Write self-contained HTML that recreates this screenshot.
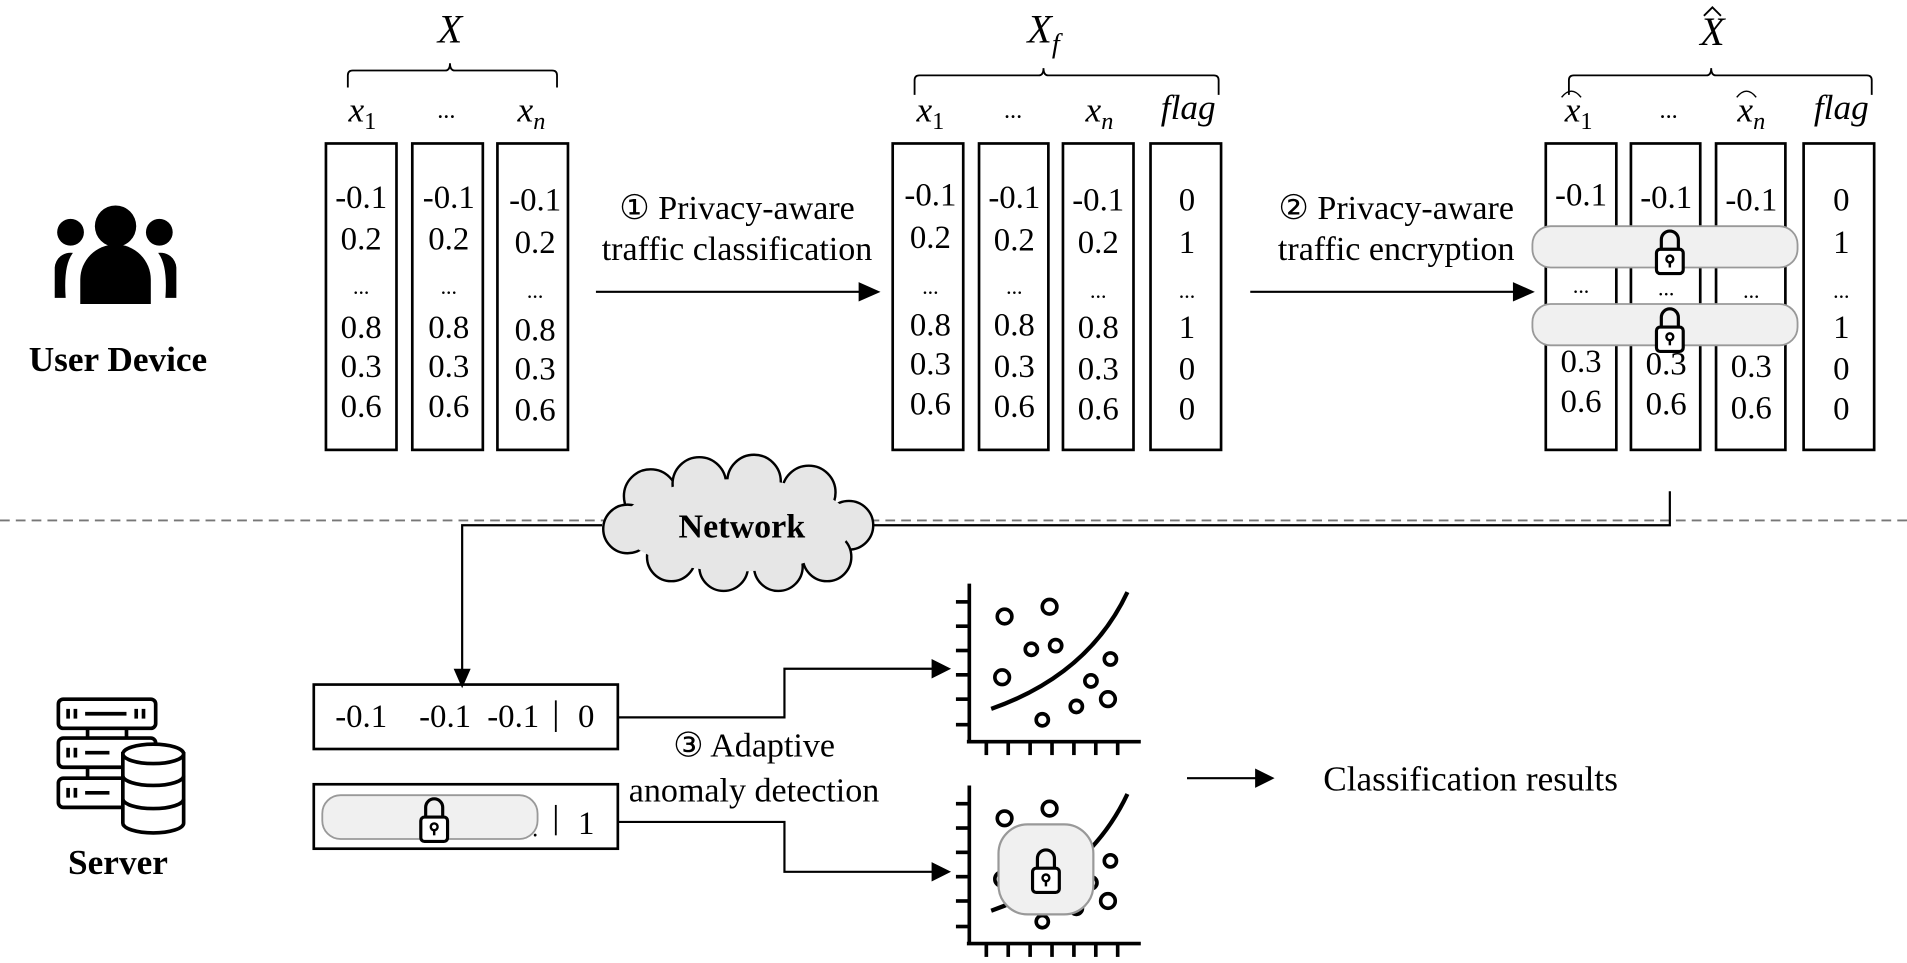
<!DOCTYPE html>
<html><head><meta charset="utf-8"><style>
html,body{margin:0;padding:0;background:#fff;}
svg{display:block;}
text{font-family:"Liberation Serif",serif;fill:#000;}
.v{font-size:27px;text-anchor:middle;}
.m{font-style:italic;font-size:29px;text-anchor:middle;}
.t{font-size:28px;text-anchor:middle;}
</style></head><body>
<svg width="1907" height="963" viewBox="0 0 1568 792" preserveAspectRatio="none" xmlns="http://www.w3.org/2000/svg">
<defs>
<g id="lock">
<path d="M-7,-2 V-10 A7,7 0 0 1 7,-10 V-2" fill="none" stroke="#000" stroke-width="2.6"/>
<rect x="-11" y="-2" width="22" height="20" rx="3" fill="#fff" stroke="#000" stroke-width="2.6"/>
<circle cx="0" cy="6" r="2.8" fill="none" stroke="#000" stroke-width="2"/>
<line x1="0" y1="8.5" x2="0" y2="13" stroke="#000" stroke-width="2"/>
</g>
<g id="plot">
<line x1="797" y1="480" x2="797" y2="610" stroke="#000" stroke-width="3"/>
<line x1="795" y1="610" x2="938" y2="610" stroke="#000" stroke-width="3"/>
<g stroke="#000" stroke-width="3">
<line x1="786" y1="495" x2="797" y2="495"/><line x1="786" y1="515" x2="797" y2="515"/><line x1="786" y1="535" x2="797" y2="535"/><line x1="786" y1="555" x2="797" y2="555"/><line x1="786" y1="575" x2="797" y2="575"/><line x1="786" y1="596" x2="797" y2="596"/>
<line x1="811" y1="610" x2="811" y2="621"/><line x1="829" y1="610" x2="829" y2="621"/><line x1="847" y1="610" x2="847" y2="621"/><line x1="865" y1="610" x2="865" y2="621"/><line x1="883" y1="610" x2="883" y2="621"/><line x1="901" y1="610" x2="901" y2="621"/><line x1="919" y1="610" x2="919" y2="621"/>
</g>
<g fill="none" stroke="#000" stroke-width="3">
<circle cx="826" cy="507" r="6"/><circle cx="863" cy="499" r="6"/><circle cx="848" cy="534" r="5"/><circle cx="868" cy="531" r="5"/><circle cx="824" cy="557" r="6"/><circle cx="913" cy="542" r="5"/><circle cx="897" cy="560" r="5"/><circle cx="885" cy="581" r="5"/><circle cx="911" cy="575" r="6"/><circle cx="857" cy="592" r="5"/>
<path d="M815,583 Q895,555 927,487" stroke-width="3.5"/>
</g>
</g>
</defs>

<!-- User icon -->
<g fill="#000">
<circle cx="95" cy="186" r="17"/>
<circle cx="58" cy="191" r="11"/>
<circle cx="131" cy="191" r="11"/>
<path d="M66,250 V230 A29,29 0 0 1 124,230 V250 Z"/>
<path d="M45,245 V220 A13,13 0 0 1 60,208 Q52,218 54,245 Z"/>
<path d="M145,245 V220 A13,13 0 0 0 130,208 Q138,218 136,245 Z"/>
</g>
<text x="97" y="305" style="font-size:29px;font-weight:bold;text-anchor:middle">User Device</text>

<!-- Group 1 -->
<text x="370" y="35" class="m" style="font-size:33px">X</text>
<path d="M286,72 V62 Q286,58 290,58 H366 Q370,58 370,52 Q370,58 374,58 H454 Q458,58 458,62 V72" fill="none" stroke="#000" stroke-width="1.5"/>
<text x="298" y="100" class="m">x<tspan font-size="20" dy="6" font-style="normal">1</tspan></text>
<text x="367" y="97" class="v" style="font-size:20px">...</text>
<text x="437" y="100" class="m">x<tspan font-size="20" dy="6">n</tspan></text>
<g fill="none" stroke="#000" stroke-width="2.2">
<rect x="268" y="118" width="58" height="252"/><rect x="339" y="118" width="58" height="252"/><rect x="409" y="118" width="58" height="252"/>
</g>
<text x="297" y="171" class="v">-0.1</text><text x="297" y="205" class="v">0.2</text><text x="297" y="242" class="v" style="font-size:18px">...</text><text x="297" y="278" class="v">0.8</text><text x="297" y="310" class="v">0.3</text><text x="297" y="343" class="v">0.6</text>
<text x="369" y="171" class="v">-0.1</text><text x="369" y="205" class="v">0.2</text><text x="369" y="242" class="v" style="font-size:18px">...</text><text x="369" y="278" class="v">0.8</text><text x="369" y="310" class="v">0.3</text><text x="369" y="343" class="v">0.6</text>
<text x="440" y="173" class="v">-0.1</text><text x="440" y="208" class="v">0.2</text><text x="440" y="245" class="v" style="font-size:18px">...</text><text x="440" y="280" class="v">0.8</text><text x="440" y="312" class="v">0.3</text><text x="440" y="346" class="v">0.6</text>

<!-- Arrow 1 -->
<text x="606" y="180" class="t">① Privacy-aware</text>
<text x="606" y="214" class="t">traffic classification</text>
<line x1="490" y1="240" x2="712" y2="240" stroke="#000" stroke-width="1.8"/>
<path d="M706,232 L724,240 L706,248 Z" fill="#000"/>

<!-- Group 2 -->
<text x="858" y="35" class="m" style="font-size:33px">X<tspan font-size="23" dy="8">f</tspan></text>
<path d="M752,78 V66 Q752,62 756,62 H854 Q858,62 858,56 Q858,62 862,62 H998 Q1002,62 1002,66 V78" fill="none" stroke="#000" stroke-width="1.5"/>
<text x="765" y="100" class="m">x<tspan font-size="20" dy="6" font-style="normal">1</tspan></text>
<text x="833" y="97" class="v" style="font-size:20px">...</text>
<text x="904" y="100" class="m">x<tspan font-size="20" dy="6">n</tspan></text>
<text x="977" y="98" class="m">flag</text>
<g fill="none" stroke="#000" stroke-width="2.2">
<rect x="734" y="118" width="58" height="252"/><rect x="805" y="118" width="57" height="252"/><rect x="874" y="118" width="58" height="252"/><rect x="946" y="118" width="58" height="252"/>
</g>
<text x="765" y="169" class="v">-0.1</text><text x="765" y="204" class="v">0.2</text><text x="765" y="242" class="v" style="font-size:18px">...</text><text x="765" y="276" class="v">0.8</text><text x="765" y="308" class="v">0.3</text><text x="765" y="341" class="v">0.6</text>
<text x="834" y="171" class="v">-0.1</text><text x="834" y="206" class="v">0.2</text><text x="834" y="242" class="v" style="font-size:18px">...</text><text x="834" y="276" class="v">0.8</text><text x="834" y="310" class="v">0.3</text><text x="834" y="343" class="v">0.6</text>
<text x="903" y="173" class="v">-0.1</text><text x="903" y="208" class="v">0.2</text><text x="903" y="245" class="v" style="font-size:18px">...</text><text x="903" y="278" class="v">0.8</text><text x="903" y="312" class="v">0.3</text><text x="903" y="345" class="v">0.6</text>
<text x="976" y="173" class="v">0</text><text x="976" y="208" class="v">1</text><text x="976" y="245" class="v" style="font-size:18px">...</text><text x="976" y="278" class="v">1</text><text x="976" y="312" class="v">0</text><text x="976" y="345" class="v">0</text>

<!-- Arrow 2 -->
<text x="1148" y="180" class="t">② Privacy-aware</text>
<text x="1148" y="214" class="t">traffic encryption</text>
<line x1="1028" y1="240" x2="1250" y2="240" stroke="#000" stroke-width="1.8"/>
<path d="M1244,232 L1262,240 L1244,248 Z" fill="#000"/>

<!-- Group 3 -->
<text x="1408" y="37" class="m" style="font-size:33px">X</text>
<path d="M1401,13 L1408,6 L1415,13" fill="none" stroke="#000" stroke-width="1.5"/>
<path d="M1290,78 V66 Q1290,62 1294,62 H1403 Q1407,62 1407,56 Q1407,62 1411,62 H1535 Q1539,62 1539,66 V78" fill="none" stroke="#000" stroke-width="1.5"/>
<text x="1298" y="100" class="m">x<tspan font-size="20" dy="6" font-style="normal">1</tspan></text>
<path d="M1284,80 Q1292,70 1300,80" fill="none" stroke="#000" stroke-width="1.2"/>
<text x="1372" y="97" class="v" style="font-size:20px">...</text>
<text x="1440" y="100" class="m">x<tspan font-size="20" dy="6">n</tspan></text>
<path d="M1428,80 Q1436,70 1444,80" fill="none" stroke="#000" stroke-width="1.2"/>
<text x="1514" y="98" class="m">flag</text>
<g fill="none" stroke="#000" stroke-width="2.2">
<rect x="1271" y="118" width="58" height="252"/><rect x="1341" y="118" width="57" height="252"/><rect x="1411" y="118" width="57" height="252"/><rect x="1483" y="118" width="58" height="252"/>
</g>
<text x="1300" y="169" class="v">-0.1</text><text x="1300" y="241" class="v" style="font-size:18px">...</text><text x="1300" y="306" class="v">0.3</text><text x="1300" y="339" class="v">0.6</text>
<text x="1370" y="171" class="v">-0.1</text><text x="1370" y="243" class="v" style="font-size:18px">...</text><text x="1370" y="308" class="v">0.3</text><text x="1370" y="341" class="v">0.6</text>
<text x="1440" y="173" class="v">-0.1</text><text x="1440" y="245" class="v" style="font-size:18px">...</text><text x="1440" y="310" class="v">0.3</text><text x="1440" y="344" class="v">0.6</text>
<text x="1514" y="173" class="v">0</text><text x="1514" y="208" class="v">1</text><text x="1514" y="245" class="v" style="font-size:18px">...</text><text x="1514" y="278" class="v">1</text><text x="1514" y="312" class="v">0</text><text x="1514" y="345" class="v">0</text>
<rect x="1260" y="186" width="218" height="34" rx="15" fill="#f0f0f0" stroke="#999" stroke-width="1.5"/>
<rect x="1260" y="250" width="218" height="34" rx="15" fill="#f0f0f0" stroke="#999" stroke-width="1.5"/>
<use href="#lock" x="1373" y="207"/>
<use href="#lock" x="1373" y="271"/>

<!-- Dashed separator -->
<line x1="0" y1="428" x2="1568" y2="428" stroke="#777" stroke-width="1.5" stroke-dasharray="8,5"/>

<polyline points="1373,404 1373,432 718,432" fill="none" stroke="#000" stroke-width="1.8"/>
<polyline points="495,432 380,432 380,558" fill="none" stroke="#000" stroke-width="1.8"/>
<path d="M373,550 L380,566 L387,550 Z" fill="#000"/>

<!-- Cloud -->
<g fill="#e6e6e6" stroke="#000" stroke-width="2">
<circle cx="535" cy="408" r="22"/><circle cx="575" cy="398" r="22"/><circle cx="620" cy="396" r="22"/><circle cx="665" cy="405" r="22"/>
<circle cx="698" cy="432" r="20"/><circle cx="680" cy="458" r="20"/><circle cx="640" cy="466" r="20"/><circle cx="595" cy="466" r="20"/><circle cx="552" cy="458" r="20"/><circle cx="516" cy="435" r="20"/>
</g>
<ellipse cx="606" cy="432" rx="95" ry="38" fill="#e6e6e6"/>
<text x="610" y="442" style="font-size:28px;font-weight:bold;text-anchor:middle">Network</text>

<!-- Server icon -->
<g fill="none" stroke="#000" stroke-width="3">
<rect x="48" y="575" width="80" height="24" rx="4"/>
<rect x="48" y="607" width="80" height="24" rx="4"/>
<rect x="48" y="640" width="80" height="24" rx="4"/>
<line x1="72" y1="599" x2="72" y2="607"/><line x1="104" y1="599" x2="104" y2="607"/>
<line x1="72" y1="631" x2="72" y2="640"/>
<line x1="56" y1="583" x2="56" y2="591"/><line x1="62" y1="583" x2="62" y2="591"/><line x1="70" y1="587" x2="104" y2="587"/><line x1="112" y1="583" x2="112" y2="591"/><line x1="118" y1="583" x2="118" y2="591"/>
<line x1="56" y1="615" x2="56" y2="623"/><line x1="62" y1="615" x2="62" y2="623"/><line x1="70" y1="619" x2="90" y2="619"/>
<line x1="56" y1="648" x2="56" y2="656"/><line x1="62" y1="648" x2="62" y2="656"/><line x1="70" y1="652" x2="90" y2="652"/>
</g>
<path d="M101,620 V677 A25,8 0 0 0 151,677 V620 Z" fill="#fff" stroke="#000" stroke-width="3"/>
<ellipse cx="126" cy="620" rx="25" ry="8" fill="#fff" stroke="#000" stroke-width="3"/>
<path d="M101,638 A25,8 0 0 0 151,638 M101,657 A25,8 0 0 0 151,657" fill="none" stroke="#000" stroke-width="3"/>
<text x="97" y="719" style="font-size:29px;font-weight:bold;text-anchor:middle">Server</text>

<!-- Server boxes -->
<rect x="258" y="563" width="250" height="53" fill="none" stroke="#000" stroke-width="2.2"/>
<text x="297" y="598" class="v">-0.1</text><text x="366" y="598" class="v">-0.1</text><text x="422" y="598" class="v">-0.1</text>
<line x1="457" y1="576" x2="457" y2="602" stroke="#000" stroke-width="1.5"/>
<text x="482" y="598" class="v">0</text>
<rect x="258" y="645" width="250" height="53" fill="none" stroke="#000" stroke-width="2.2"/>
<text x="440" y="688" class="v" style="font-size:20px">.</text>
<line x1="457" y1="662" x2="457" y2="687" stroke="#000" stroke-width="1.5"/>
<text x="482" y="686" class="v">1</text>
<rect x="265" y="654" width="177" height="36" rx="15" fill="#f0f0f0" stroke="#999" stroke-width="1.5"/>
<use href="#lock" x="357" y="674"/>

<text x="620" y="622" class="t">③ Adaptive</text>
<text x="620" y="659" class="t">anomaly detection</text>

<polyline points="508,590 645,590 645,550 770,550" fill="none" stroke="#000" stroke-width="1.8"/>
<path d="M766,542 L782,550 L766,558 Z" fill="#000"/>
<polyline points="508,676 645,676 645,717 770,717" fill="none" stroke="#000" stroke-width="1.8"/>
<path d="M766,709 L782,717 L766,725 Z" fill="#000"/>

<use href="#plot"/>
<use href="#plot" y="166"/>
<rect x="821" y="678" width="78" height="74" rx="24" fill="#f0f0f0" stroke="#999" stroke-width="1.8"/>
<use href="#lock" x="860" y="716"/>

<line x1="976" y1="640" x2="1036" y2="640" stroke="#000" stroke-width="1.8"/>
<path d="M1032,632 L1048,640 L1032,648 Z" fill="#000"/>
<text x="1088" y="650" style="font-size:29px">Classification results</text>
</svg>
</body></html>
